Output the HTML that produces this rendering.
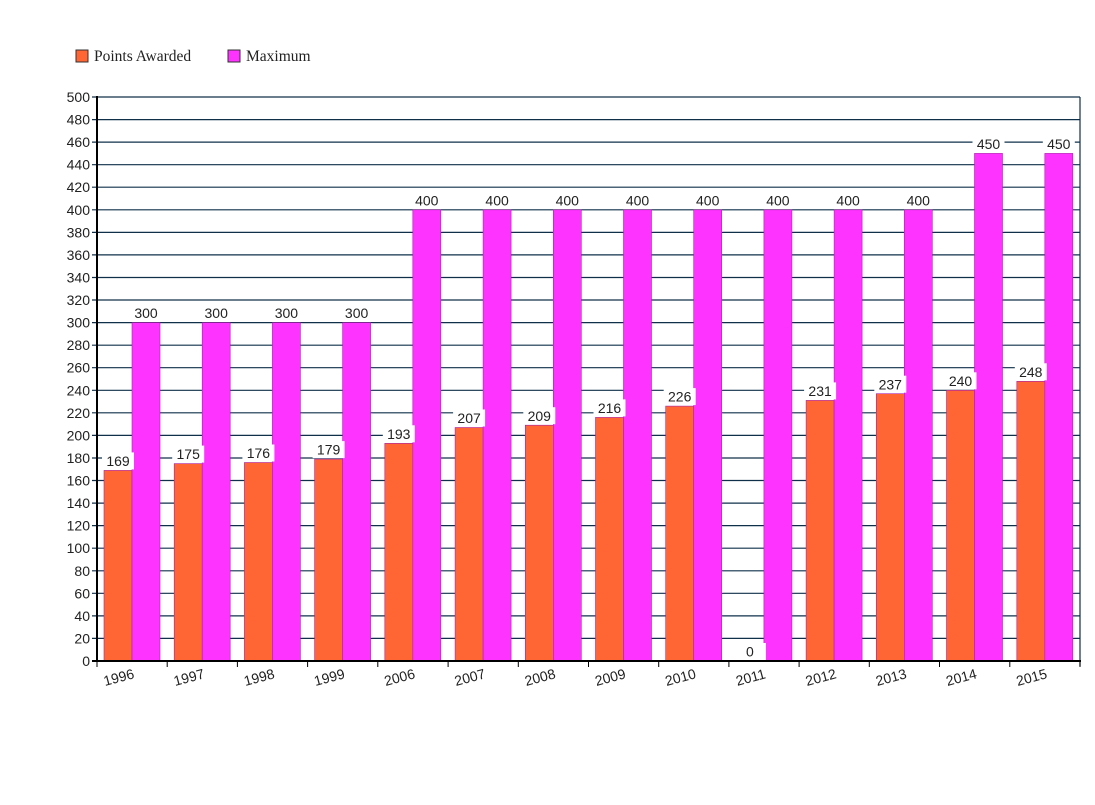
<!DOCTYPE html>
<html><head><meta charset="utf-8"><style>body{margin:0;background:#fff}svg{display:block}</style></head><body>
<svg width="1095" height="805" xmlns="http://www.w3.org/2000/svg">
<rect width="1095" height="805" fill="#fff"/>
<rect x="76" y="50" width="12" height="12" fill="#ff6633" stroke="#333" stroke-width="1"/>
<text x="94" y="61" font-family="Liberation Serif, serif" font-size="15.5" fill="#222">Points Awarded</text>
<rect x="228" y="50" width="12" height="12" fill="#ff33ff" stroke="#333" stroke-width="1"/>
<text x="246" y="61" font-family="Liberation Serif, serif" font-size="15.5" fill="#222">Maximum</text>
<g stroke="#10304a" stroke-width="1.2">
<line x1="92" x2="1080" y1="97" y2="97"/><line x1="92" x2="1080" y1="119.6" y2="119.6"/><line x1="92" x2="1080" y1="142.1" y2="142.1"/><line x1="92" x2="1080" y1="164.7" y2="164.7"/><line x1="92" x2="1080" y1="187.2" y2="187.2"/><line x1="92" x2="1080" y1="209.8" y2="209.8"/><line x1="92" x2="1080" y1="232.4" y2="232.4"/><line x1="92" x2="1080" y1="254.9" y2="254.9"/><line x1="92" x2="1080" y1="277.5" y2="277.5"/><line x1="92" x2="1080" y1="300" y2="300"/><line x1="92" x2="1080" y1="322.6" y2="322.6"/><line x1="92" x2="1080" y1="345.2" y2="345.2"/><line x1="92" x2="1080" y1="367.7" y2="367.7"/><line x1="92" x2="1080" y1="390.3" y2="390.3"/><line x1="92" x2="1080" y1="412.8" y2="412.8"/><line x1="92" x2="1080" y1="435.4" y2="435.4"/><line x1="92" x2="1080" y1="458" y2="458"/><line x1="92" x2="1080" y1="480.5" y2="480.5"/><line x1="92" x2="1080" y1="503.1" y2="503.1"/><line x1="92" x2="1080" y1="525.6" y2="525.6"/><line x1="92" x2="1080" y1="548.2" y2="548.2"/><line x1="92" x2="1080" y1="570.8" y2="570.8"/><line x1="92" x2="1080" y1="593.3" y2="593.3"/><line x1="92" x2="1080" y1="615.9" y2="615.9"/><line x1="92" x2="1080" y1="638.4" y2="638.4"/>
</g>
<line x1="1080" x2="1080" y1="97" y2="666" stroke="#10304a" stroke-width="1.2"/>
<g font-family="Liberation Sans, sans-serif" font-size="14" fill="#222" text-anchor="end">
<text x="90" y="102">500</text><text x="90" y="124.6">480</text><text x="90" y="147.1">460</text><text x="90" y="169.7">440</text><text x="90" y="192.2">420</text><text x="90" y="214.8">400</text><text x="90" y="237.4">380</text><text x="90" y="259.9">360</text><text x="90" y="282.5">340</text><text x="90" y="305">320</text><text x="90" y="327.6">300</text><text x="90" y="350.2">280</text><text x="90" y="372.7">260</text><text x="90" y="395.3">240</text><text x="90" y="417.8">220</text><text x="90" y="440.4">200</text><text x="90" y="463">180</text><text x="90" y="485.5">160</text><text x="90" y="508.1">140</text><text x="90" y="530.6">120</text><text x="90" y="553.2">100</text><text x="90" y="575.8">80</text><text x="90" y="598.3">60</text><text x="90" y="620.9">40</text><text x="90" y="643.4">20</text><text x="90" y="666">0</text>
</g>
<g stroke="#aa22aa" stroke-width="0.6">
<g fill="#ff6633">
<rect x="104" y="470.4" width="28" height="190.6"/><rect x="174.2" y="463.6" width="28" height="197.4"/><rect x="244.4" y="462.5" width="28" height="198.5"/><rect x="314.6" y="459.1" width="28" height="201.9"/><rect x="384.8" y="443.3" width="28" height="217.7"/><rect x="455.1" y="427.5" width="28" height="233.5"/><rect x="525.3" y="425.2" width="28" height="235.8"/><rect x="595.5" y="417.4" width="28" height="243.6"/><rect x="665.7" y="406.1" width="28" height="254.9"/><rect x="806.1" y="400.4" width="28" height="260.6"/><rect x="876.3" y="393.7" width="28" height="267.3"/><rect x="946.5" y="390.3" width="28" height="270.7"/><rect x="1016.8" y="381.3" width="28" height="279.7"/>
</g>
<g fill="#ff33ff">
<rect x="132" y="322.6" width="28" height="338.4"/><rect x="202.2" y="322.6" width="28" height="338.4"/><rect x="272.4" y="322.6" width="28" height="338.4"/><rect x="342.6" y="322.6" width="28" height="338.4"/><rect x="412.8" y="209.8" width="28" height="451.2"/><rect x="483.1" y="209.8" width="28" height="451.2"/><rect x="553.3" y="209.8" width="28" height="451.2"/><rect x="623.5" y="209.8" width="28" height="451.2"/><rect x="693.7" y="209.8" width="28" height="451.2"/><rect x="763.9" y="209.8" width="28" height="451.2"/><rect x="834.1" y="209.8" width="28" height="451.2"/><rect x="904.3" y="209.8" width="28" height="451.2"/><rect x="974.5" y="153.4" width="28" height="507.6"/><rect x="1044.8" y="153.4" width="28" height="507.6"/>
</g>
</g>
<g fill="#fff">
<rect x="102" y="452.4" width="32" height="17"/><rect x="172.2" y="445.6" width="32" height="17"/><rect x="242.4" y="444.5" width="32" height="17"/><rect x="312.6" y="441.1" width="32" height="17"/><rect x="382.8" y="425.3" width="32" height="17"/><rect x="453.1" y="409.5" width="32" height="17"/><rect x="523.3" y="407.2" width="32" height="17"/><rect x="593.5" y="399.4" width="32" height="17"/><rect x="663.7" y="388.1" width="32" height="17"/><rect x="733.9" y="643" width="32" height="17"/><rect x="804.1" y="382.4" width="32" height="17"/><rect x="874.3" y="375.7" width="32" height="17"/><rect x="944.5" y="372.3" width="32" height="17"/><rect x="1014.8" y="363.3" width="32" height="17"/>
<rect x="130" y="304.6" width="32" height="17"/><rect x="200.2" y="304.6" width="32" height="17"/><rect x="270.4" y="304.6" width="32" height="17"/><rect x="340.6" y="304.6" width="32" height="17"/><rect x="410.8" y="191.8" width="32" height="17"/><rect x="481.1" y="191.8" width="32" height="17"/><rect x="551.3" y="191.8" width="32" height="17"/><rect x="621.5" y="191.8" width="32" height="17"/><rect x="691.7" y="191.8" width="32" height="17"/><rect x="761.9" y="191.8" width="32" height="17"/><rect x="832.1" y="191.8" width="32" height="17"/><rect x="902.3" y="191.8" width="32" height="17"/><rect x="972.5" y="135.4" width="32" height="17"/><rect x="1042.8" y="135.4" width="32" height="17"/>
</g>
<g font-family="Liberation Sans, sans-serif" font-size="14" fill="#222" text-anchor="middle">
<text x="118" y="466">169</text><text x="188.2" y="459.2">175</text><text x="258.4" y="458.1">176</text><text x="328.6" y="454.7">179</text><text x="398.8" y="438.9">193</text><text x="469.1" y="423.1">207</text><text x="539.3" y="420.8">209</text><text x="609.5" y="413">216</text><text x="679.7" y="401.7">226</text><text x="749.9" y="656.6">0</text><text x="820.1" y="396">231</text><text x="890.3" y="389.3">237</text><text x="960.5" y="385.9">240</text><text x="1030.8" y="376.9">248</text>
<text x="146" y="318.2">300</text><text x="216.2" y="318.2">300</text><text x="286.4" y="318.2">300</text><text x="356.6" y="318.2">300</text><text x="426.8" y="205.4">400</text><text x="497.1" y="205.4">400</text><text x="567.3" y="205.4">400</text><text x="637.5" y="205.4">400</text><text x="707.7" y="205.4">400</text><text x="777.9" y="205.4">400</text><text x="848.1" y="205.4">400</text><text x="918.3" y="205.4">400</text><text x="988.5" y="149">450</text><text x="1058.8" y="149">450</text>
</g>
<line x1="97" x2="97" y1="96" y2="662" stroke="#000" stroke-width="2"/>
<line x1="92" x2="1081" y1="661" y2="661" stroke="#000" stroke-width="2"/>
<g stroke="#000" stroke-width="1">
<line x1="97" x2="97" y1="661" y2="667"/><line x1="167.2" x2="167.2" y1="661" y2="667"/><line x1="237.4" x2="237.4" y1="661" y2="667"/><line x1="307.6" x2="307.6" y1="661" y2="667"/><line x1="377.8" x2="377.8" y1="661" y2="667"/><line x1="448.1" x2="448.1" y1="661" y2="667"/><line x1="518.3" x2="518.3" y1="661" y2="667"/><line x1="588.5" x2="588.5" y1="661" y2="667"/><line x1="658.7" x2="658.7" y1="661" y2="667"/><line x1="728.9" x2="728.9" y1="661" y2="667"/><line x1="799.1" x2="799.1" y1="661" y2="667"/><line x1="869.3" x2="869.3" y1="661" y2="667"/><line x1="939.5" x2="939.5" y1="661" y2="667"/><line x1="1009.8" x2="1009.8" y1="661" y2="667"/><line x1="1080" x2="1080" y1="661" y2="667"/>
</g>
<g font-family="Liberation Sans, sans-serif" font-size="14" fill="#222" text-anchor="middle">
<text transform="translate(120,682) rotate(-15)">1996</text><text transform="translate(190.2,682) rotate(-15)">1997</text><text transform="translate(260.4,682) rotate(-15)">1998</text><text transform="translate(330.6,682) rotate(-15)">1999</text><text transform="translate(400.8,682) rotate(-15)">2006</text><text transform="translate(471.1,682) rotate(-15)">2007</text><text transform="translate(541.3,682) rotate(-15)">2008</text><text transform="translate(611.5,682) rotate(-15)">2009</text><text transform="translate(681.7,682) rotate(-15)">2010</text><text transform="translate(751.9,682) rotate(-15)">2011</text><text transform="translate(822.1,682) rotate(-15)">2012</text><text transform="translate(892.3,682) rotate(-15)">2013</text><text transform="translate(962.5,682) rotate(-15)">2014</text><text transform="translate(1032.8,682) rotate(-15)">2015</text>
</g>
</svg>
</body></html>
